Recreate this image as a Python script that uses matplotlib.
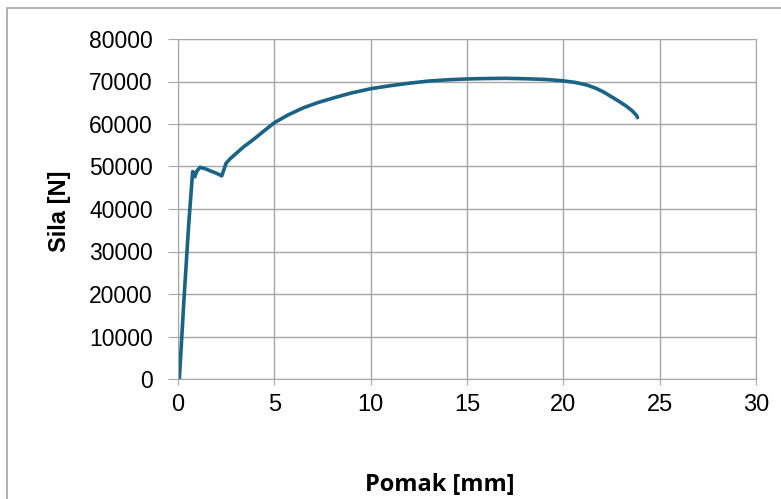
import matplotlib
matplotlib.use("Agg")
import matplotlib.pyplot as plt
from matplotlib.patches import Rectangle

# displacement [mm] and force [N]
pomak = [0.0, 0.07, 0.3, 0.55, 0.76, 0.82, 0.88, 0.96, 1.05, 1.14, 1.4, 1.66, 2.0, 2.27,
         2.4, 2.5, 2.7, 3.0, 3.4, 3.9, 4.5, 5.0, 5.7, 6.5, 7.3, 8.2, 9.0, 10.0, 11.0,
         12.0, 13.0, 14.0, 15.0, 16.0, 17.0, 18.0, 19.0, 19.9, 20.6, 21.2, 21.7, 22.1,
         22.5, 22.9, 23.3, 23.6, 23.8, 23.85]
sila = [0, 0, 18000, 36000, 48800, 48200, 47600, 48800, 49300, 49800, 49500, 49000, 48400, 47800,
        49500, 50800, 51800, 53000, 54600, 56300, 58500, 60300, 62100, 63800, 65100, 66300,
        67300, 68300, 69000, 69600, 70100, 70400, 70600, 70700, 70750, 70650, 70500, 70200,
        69800, 69200, 68400, 67500, 66400, 65300, 64100, 63000, 62000, 61500]

x_ticks = [0, 5, 10, 15, 20, 25, 30]
y_ticks = [0, 10000, 20000, 30000, 40000, 50000, 60000, 70000, 80000]

fig = plt.figure(figsize=(7.81, 4.99), dpi=100)
fig.patches.append(Rectangle((7 / 781, -0.1), 1.2, 1.1 - 8 / 499,
                             transform=fig.transFigure, fill=False,
                             edgecolor="#a6a6a6", linewidth=1.2))
ax = fig.add_axes([178 / 781, 1 - 379 / 499, (756 - 178) / 781, (379 - 39) / 499])

ax.plot(pomak, sila, color="#1a6385", linewidth=2.6, solid_capstyle="round",
        solid_joinstyle="round")

ax.set_xlim(0, 30)
ax.set_ylim(0, 80000)
ax.set_xticks(x_ticks)
ax.set_yticks(y_ticks)
ax.set_xticklabels([str(v) for v in x_ticks], fontsize=17,
                   family=["Liberation Sans Narrow", "Liberation Sans"])
ax.set_yticklabels([str(v) for v in y_ticks], fontsize=16.5, family="Liberation Sans")
ax.grid(True, color="#a6a6a6", linewidth=1)
ax.set_axisbelow(True)
for s in ax.spines.values():
    s.set_color("#a6a6a6")
ax.tick_params(axis="y", length=7, color="#a6a6a6", pad=11)
ax.tick_params(axis="x", length=4, color="#a6a6a6", pad=7)

fig.text(60 / 781, 1 - 211 / 499, "Sila [N]", fontsize=17, fontweight="bold",
         family="Liberation Sans", rotation=90, ha="center", va="center")
fig.text(440 / 781, 1 - 485 / 499, "Pomak [mm]", fontsize=17, fontweight="bold",
         family="Open Sans", ha="center", va="center")

fig.savefig("out.png", dpi=100)
